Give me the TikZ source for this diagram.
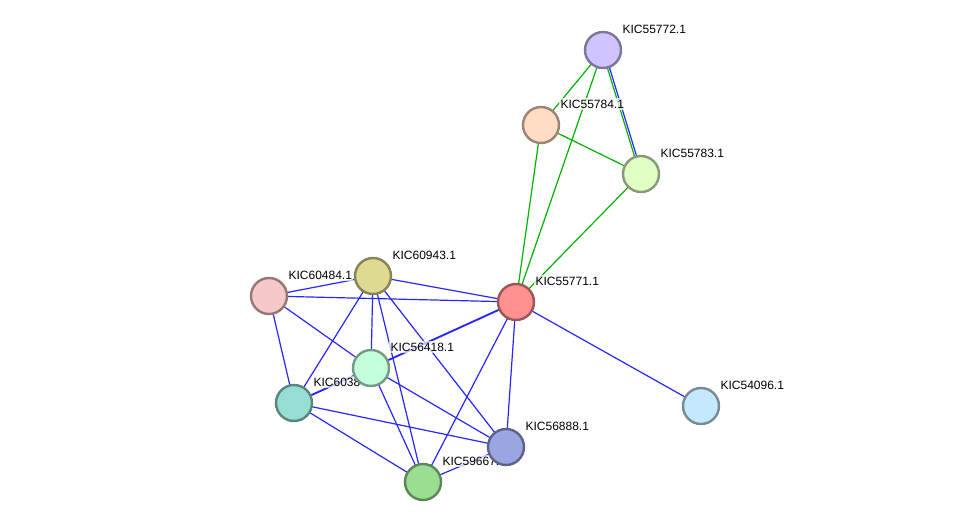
\documentclass[tikz,border=0pt]{standalone}
\usepackage{fontspec}
\setmainfont{Liberation Sans}
\usepackage{tikz}
\usetikzlibrary{positioning}
\definecolor{c72}{RGB}{208,196,255}
\definecolor{c784}{RGB}{255,221,196}
\definecolor{c783}{RGB}{225,255,196}
\definecolor{c943}{RGB}{222,218,145}
\definecolor{c484}{RGB}{247,200,200}
\definecolor{c771}{RGB}{255,145,145}
\definecolor{c418}{RGB}{196,255,220}
\definecolor{c384}{RGB}{150,222,212}
\definecolor{c096}{RGB}{196,232,252}
\definecolor{c888}{RGB}{155,165,225}
\definecolor{c667}{RGB}{155,222,145}

\begin{document}
\begin{tikzpicture}[
        x=0.75pt, y=-0.75pt,
        prot/.style = {
            draw=#1!60!black,
            fill=#1,
            circle,
            minimum size = 27pt,
            inner sep = 0pt,
            line width = 1.8pt
        },
        lab/.style = {
            anchor = west,
            font = \fontsize{9pt}{10pt}\selectfont,
            inner sep = 1pt
        },
        bl/.style = {draw=blue!85!white, line width = 0.9pt},
        gr/.style = {draw=green!70!black, line width = 0.9pt}
        ]
        \useasboundingbox (0,0) rectangle (976,528);
%
        \coordinate (p72) at (603,50);
        \coordinate (p784) at (541,125);
        \coordinate (p783) at (641,174);
        \coordinate (p943) at (373,276);
        \coordinate (p484) at (269,296);
        \coordinate (p771) at (516,302);
        \coordinate (p418) at (371,368);
        \coordinate (p384) at (294,403);
        \coordinate (p096) at (701,406);
        \coordinate (p888) at (506,447);
        \coordinate (p667) at (423,482);
%
        % green edges
        \draw[gr] (p72) -- (p784);
        \draw[gr, transform canvas={xshift=-0.8pt}] (p72) -- (p783);
        \draw[bl, transform canvas={xshift=0.8pt}] (p72) -- (p783);
        \draw[gr] (p72) -- (p771);
        \draw[gr] (p784) -- (p783);
        \draw[gr] (p784) -- (p771);
        \draw[gr] (p783) -- (p771);
%
        % blue edges
        \draw[bl] (p484) -- (p943);
        \draw[bl] (p484) -- (p771);
        \draw[bl] (p484) -- (p418);
        \draw[bl] (p484) -- (p384);
        \draw[bl] (p943) -- (p771);
        \draw[bl] (p943) -- (p418);
        \draw[bl] (p943) -- (p384);
        \draw[bl] (p943) -- (p667);
        \draw[bl] (p943) -- (p888);
        \draw[bl, line width=1.4pt] (p771) -- (p418);
        \draw[bl] (p771) -- (p096);
        \draw[bl] (p771) -- (p888);
        \draw[bl] (p771) -- (p667);
        \draw[bl, line width=1.4pt] (p418) -- (p384);
        \draw[bl] (p418) -- (p888);
        \draw[bl] (p418) -- (p667);
        \draw[bl] (p384) -- (p888);
        \draw[bl] (p384) -- (p667);
        \draw[bl] (p888) -- (p667);
%
        % labels
        \foreach \p/\t in {p72/KIC55772.1, p784/KIC55784.1, p783/KIC55783.1,
                p943/KIC60943.1, p484/KIC60484.1, p771/KIC55771.1, p418/KIC56418.1,
                p384/KIC60384.1, p096/KIC54096.1, p888/KIC56888.1, p667/KIC59667.1}
            \node[lab, fill=white, fill opacity=0.7, text opacity=1] at ([shift={(18,-21)}]\p) {\t};
%
        % proteins
        \node[prot=c72] (n72) at (p72) {};
        \node[prot=c784] (n784) at (p784) {};
        \node[prot=c783] (n783) at (p783) {};
        \node[prot=c943] (n943) at (p943) {};
        \node[prot=c484] (n484) at (p484) {};
        \node[prot=c771] (n771) at (p771) {};
        \node[prot=c418] (n418) at (p418) {};
        \node[prot=c384] (n384) at (p384) {};
        \node[prot=c096] (n096) at (p096) {};
        \node[prot=c888] (n888) at (p888) {};
        \node[prot=c667] (n667) at (p667) {};
\end{tikzpicture}
\end{document}
